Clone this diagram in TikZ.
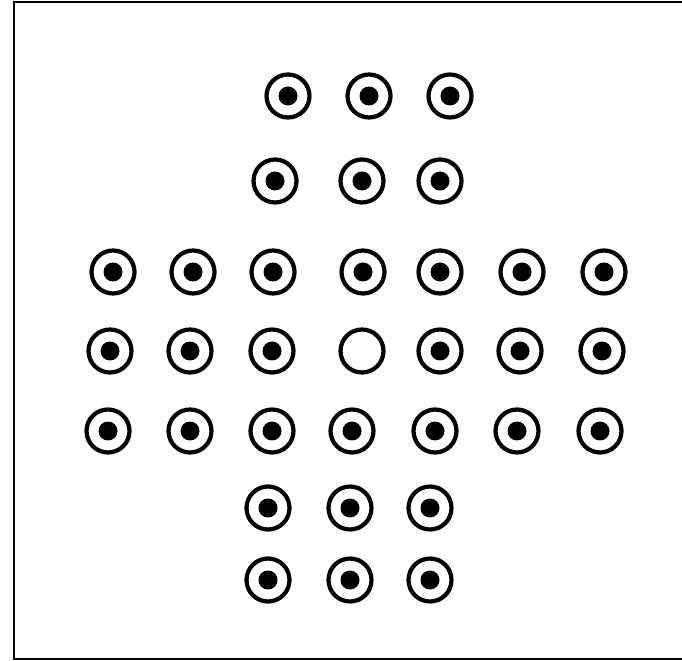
\documentclass[tikz,border=0pt]{standalone}
\usepackage{tikz}
\begin{document}
\begin{tikzpicture}[x=0.02cm,y=-0.02cm,
  hole/.style={draw,circle,line width=2.4pt,minimum size=0.86cm,inner sep=0pt},
  peg/.style={fill,circle,minimum size=0.38cm,inner sep=0pt}]
  \useasboundingbox (0,0) rectangle (682,661);
  \draw[line width=1pt] (682,2) -- (14,2) -- (14,659) -- (682,659);
  % pegs, row by row
  \foreach \x/\y [count=\i] in {288/96,369/96,450/96,
      275/181,362/181,440/181,
      113/272,193/272,273/272,363/272,440/272,522/272,604/272,
      110/351,190/351,272/351,440/351,520/351,602/351,
      108/431,190/431,272/431,352/431,435/431,517/431,600/431,
      268/508,350/508,430/508,
      268/580,350/580,430/580}{
    \node[hole] (h\i) at (\x,\y) {};
    \node[peg] (p\i) at (h\i) {};
  }
  % the empty hole
  \node[hole] (c) at (362,351) {};
\end{tikzpicture}
\end{document}
